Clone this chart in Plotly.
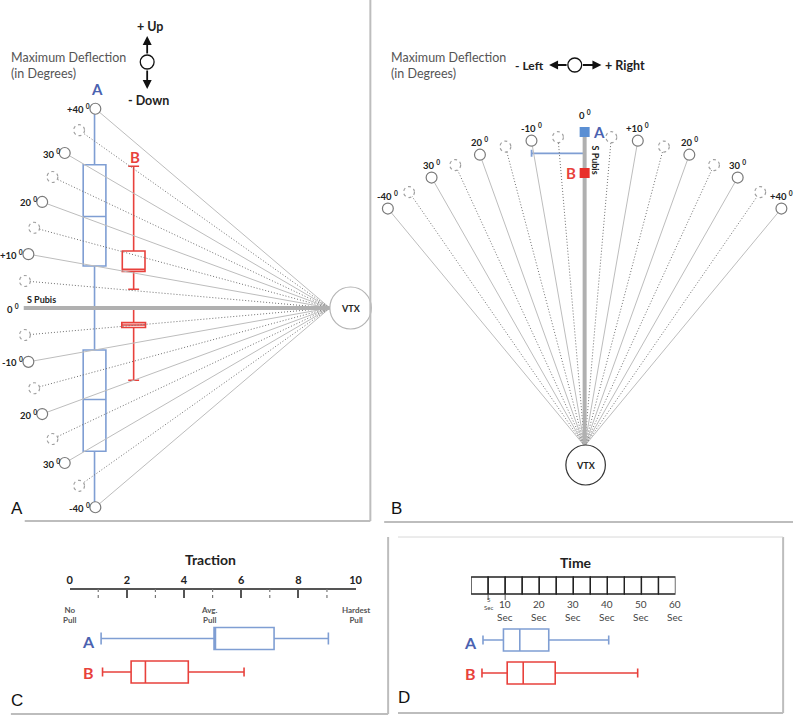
import math
import plotly.graph_objects as go

# ---------------- data ----------------
FAN_ANGLES = [-40, -35, -30, -25, -20, -15, -10, -5, 0, 5, 10, 15, 20, 25, 30, 35, 40]
LABEL_ANGLES = [-40, -30, -20, -10, 0, 10, 20, 30, 40]
DEGREE_LABELS = ["-40", "30", "20", "-10", "0", "+10", "20", "30", "+40"]

# box statistics: [lower whisker, Q1, median, Q3, upper whisker]  (degrees)
UPDOWN_A_UP = [0, 10, 21, 31, 40]
UPDOWN_A_DOWN = [-40, -31, -21, -10, 0]
UPDOWN_B_UP = [5.4, 10.4, 11, 16, 35.5]
UPDOWN_B_DOWN = [-20, -5.6, -4.9, -4.2, 0]
LEFTRIGHT_A = [-10.4, 0, 0, 0, 0]
LEFTRIGHT_MEDIANS = [0, 0]          # A, B

TRACTION_A = [1.1, 5.05, 5.1, 7.15, 9.05]
TRACTION_B = [1.15, 2.15, 2.65, 4.15, 6.1]
TRACTION_TICKS = [0, 2, 4, 6, 8, 10]
TRACTION_MINOR = [1, 3, 5, 7, 9]
TRACTION_ANCHOR_VALUES = [0, 4.9, 10]
TRACTION_ANCHOR_TEXT = ["No<br>Pull", "Avg.<br>Pull", "Hardest<br>Pull"]

TIME_A = [3.5, 9.5, 14.3, 22.8, 40.4]
TIME_B = [3.2, 10.6, 15.3, 24.7, 48.9]
TIME_CELL_EDGES = [0, 5, 10, 15, 20, 25, 30, 35, 40, 45, 50, 55, 60]
TIME_TICKS = [5, 10, 20, 30, 40, 50, 60]

# ---------------- layout / style ----------------
W, H = 800, 720
FONT = "Lato"
BLUE = "#7f9ed3"
BLUE_TXT = "#4a62b0"
RED = "#e8413c"
GRAY_SOLID = "#bdbdbd"
GRAY_DOT = "#707070"
FAN_R = 310
VA = (331, 308)     # vertex of panel A (px)
VB = (589, 446)     # vertex of panel B (px)
TOP_BOTTOM = 530    # px where top panels end


def tproj(deg, dist):
    return dist * math.tan(math.radians(deg))


def P(x, y, text, size, color="#222", xanchor="center", yanchor="middle",
      family=FONT, angle=0):
    return dict(xref="paper", yref="paper", x=x / W, y=1 - y / H, text=text,
                showarrow=False, xanchor=xanchor, yanchor=yanchor, align=xanchor,
                textangle=angle, font=dict(family=family, size=size, color=color))


fig = go.Figure()
shapes = []
anns = []


def fanA(deg):
    r = math.radians(deg)
    return -FAN_R * math.cos(r), FAN_R * math.sin(r)


def fanB(deg):
    r = math.radians(deg)
    return FAN_R * math.sin(r), FAN_R * math.cos(r)


for fan, xa, ya in ((fanA, "x", "y"), (fanB, "x2", "y2")):
    sx, sy, dx, dy = [], [], [], []
    for d in FAN_ANGLES:
        if d == 0:
            continue
        ex, ey = fan(d)
        if d % 10 == 0:
            sx += [0, ex, None]; sy += [0, ey, None]
        else:
            dx += [0, ex, None]; dy += [0, ey, None]
    fig.add_trace(go.Scatter(x=sx, y=sy, mode="lines", xaxis=xa, yaxis=ya,
                             line=dict(color=GRAY_SOLID, width=1), hoverinfo="skip",
                             showlegend=False))
    fig.add_trace(go.Scatter(x=dx, y=dy, mode="lines", xaxis=xa, yaxis=ya,
                             line=dict(color=GRAY_DOT, width=1, dash="1px,2px"),
                             hoverinfo="skip", showlegend=False))
    # S Pubis (0 degree) line
    ex, ey = fan(0)
    fig.add_trace(go.Scatter(x=[0, ex], y=[0, ey], mode="lines", xaxis=xa, yaxis=ya,
                             line=dict(color="#b0b0b0", width=4), hoverinfo="skip",
                             showlegend=False))
    # circles at the ends
    for d in FAN_ANGLES:
        if d == 0:
            continue
        ex, ey = fan(d)
        shapes.append(dict(type="circle", xref=xa, yref=ya,
                           x0=ex - 5.5, x1=ex + 5.5, y0=ey - 5.5, y1=ey + 5.5,
                           fillcolor="white",
                           line=dict(color="#7a7a7a" if d % 10 == 0 else "#a0a0a0",
                                     width=1.2, dash="solid" if d % 10 == 0 else "dot")))

# degree labels
for d, lab in zip(LABEL_ANGLES, DEGREE_LABELS):
    ax_, ay_ = fanA(d)
    anns.append(dict(xref="x", yref="y", x=ax_, y=ay_, text=f"<b>{lab} <sup>0</sup></b>",
                     showarrow=False, xanchor="right", yanchor="middle", xshift=-3,
                     font=dict(family=FONT, size=9.5, color="#222")))
    bx_, by_ = fanB(d)
    anns.append(dict(xref="x2", yref="y2", x=bx_, y=by_, text=f"<b>{lab} <sup>0</sup></b>",
                     showarrow=False, xanchor="center", yanchor="bottom",
                     yshift=13 if d == 0 else 5,
                     font=dict(family=FONT, size=9.5, color="#222")))


def vbox(stats, pos, color, width, ww, xa, ya, lw=1.6):
    s = [tproj(v, -pos) for v in stats]
    return go.Box(x=[pos], lowerfence=[s[0]], q1=[s[1]], median=[s[2]], q3=[s[3]],
                  upperfence=[s[4]], orientation="v", width=width, whiskerwidth=ww,
                  line=dict(color=color, width=lw), fillcolor="white", boxpoints=False,
                  hoverinfo="skip", xaxis=xa, yaxis=ya, showlegend=False)


POS_A = -(VA[0] - 92.7)
POS_B = -(VA[0] - 132.3)
fig.add_trace(vbox(UPDOWN_A_UP, POS_A, BLUE, 23, 0.32, "x", "y"))
fig.add_trace(vbox(UPDOWN_A_DOWN, POS_A, BLUE, 23, 0.32, "x", "y"))
fig.add_trace(vbox(UPDOWN_B_UP, POS_B, RED, 23, 0.48, "x", "y"))
fig.add_trace(vbox(UPDOWN_B_DOWN, POS_B, RED, 24, 0.46, "x", "y"))

# VTX circle A
shapes.append(dict(type="circle", xref="x", yref="y", x0=0, x1=42, y0=-21, y1=21,
                   line=dict(color="#b5b5b5", width=1.2), fillcolor="white"))
anns.append(dict(xref="x", yref="y", x=21, y=0, text="<b>VTX</b>", showarrow=False,
                 font=dict(family=FONT, size=9, color="#222")))
anns.append(P(22, 299, "<b>S Pubis</b>", 9, xanchor="left"))
anns.append(P(95, 89, "<b>A</b>", 15, BLUE_TXT))
anns.append(P(134, 157, "<b>B</b>", 15, RED))

# title + up/down symbol
anns.append(P(6, 65, "Maximum Deflection<br>(in Degrees)", 12.5, "#555", xanchor="left"))
anns.append(P(149, 27, "<b>+ Up</b>", 12.5))
anns.append(P(147, 101, "<b>- Down</b>", 12.5))
anns.append(dict(xref="paper", yref="paper", x=146 / W, y=1 - 36 / H, ax=0, ay=19,
                 text="", showarrow=True, arrowhead=2, arrowsize=1, arrowwidth=1.8,
                 arrowcolor="#111"))
anns.append(dict(xref="paper", yref="paper", x=146 / W, y=1 - 89 / H, ax=0, ay=-20,
                 text="", showarrow=True, arrowhead=2, arrowsize=1, arrowwidth=1.8,
                 arrowcolor="#111"))
shapes.append(dict(type="circle", xref="paper", yref="paper", x0=139 / W, x1=153 / W,
                   y0=1 - 69 / H, y1=1 - 55 / H, line=dict(color="#111", width=1.3),
                   fillcolor="white"))

# ================= Panel B (left / right) =================
LR_LEVEL = VB[1] - 153.3
s = [tproj(v, LR_LEVEL) for v in LEFTRIGHT_A]
fig.add_trace(go.Box(y=[LR_LEVEL], lowerfence=[s[0]], q1=[s[1]], median=[s[2]], q3=[s[3]],
                     upperfence=[s[4]], orientation="h", width=7, whiskerwidth=1,
                     line=dict(color=BLUE, width=1.8), fillcolor="white", boxpoints=False,
                     hoverinfo="skip", xaxis="x2", yaxis="y2", showlegend=False))
SQ_LEVELS = [VB[1] - 132, VB[1] - 173]
fig.add_trace(go.Scatter(x=[tproj(LEFTRIGHT_MEDIANS[0], SQ_LEVELS[0]),
                            tproj(LEFTRIGHT_MEDIANS[1], SQ_LEVELS[1])],
                         y=SQ_LEVELS, mode="markers", xaxis="x2", yaxis="y2",
                         marker=dict(symbol="square", size=10, color=["#5b8fd3", "#e8302a"]),
                         hoverinfo="skip", showlegend=False))
anns.append(P(604, 132, "<b>A</b>", 15, BLUE_TXT))
anns.append(P(575, 173, "<b>B</b>", 15, RED))
anns.append(P(601, 160, "<b>S Pubis</b>", 9, angle=90))
shapes.append(dict(type="circle", xref="x2", yref="y2", x0=-19, x1=21, y0=-39, y1=1,
                   line=dict(color="#333", width=1.2), fillcolor="white"))
anns.append(dict(xref="x2", yref="y2", x=1, y=-19, text="<b>VTX</b>", showarrow=False,
                 font=dict(family=FONT, size=9, color="#222")))

anns.append(P(391, 65, "Maximum Deflection<br>(in Degrees)", 12.5, "#555", xanchor="left"))
anns.append(P(550, 65, "<b>- Left</b>", 12, xanchor="right"))
anns.append(P(608, 65, "<b>+ Right</b>", 12.5, xanchor="left"))
anns.append(dict(xref="paper", yref="paper", x=553 / W, y=1 - 65 / H, ax=19, ay=0,
                 text="", showarrow=True, arrowhead=2, arrowsize=1, arrowwidth=1.8,
                 arrowcolor="#111"))
anns.append(dict(xref="paper", yref="paper", x=606 / W, y=1 - 65 / H, ax=-20, ay=0,
                 text="", showarrow=True, arrowhead=2, arrowsize=1, arrowwidth=1.8,
                 arrowcolor="#111"))
shapes.append(dict(type="circle", xref="paper", yref="paper", x0=572 / W, x1=586 / W,
                   y0=1 - 72 / H, y1=1 - 58 / H, line=dict(color="#111", width=1.3),
                   fillcolor="white"))

# ================= Panel C (traction) =================
def hbox(stats, row, color, xa, ya, ww):
    return go.Box(y=[row], lowerfence=[stats[0]], q1=[stats[1]], median=[stats[2]],
                  q3=[stats[3]], upperfence=[stats[4]], orientation="h", width=22,
                  whiskerwidth=ww, line=dict(color=color, width=1.6), fillcolor="white",
                  boxpoints=False, hoverinfo="skip", xaxis=xa, yaxis=ya, showlegend=False)


fig.add_trace(hbox(TRACTION_A, 638.5, BLUE, "x3", "y3", 0.55))
fig.add_trace(hbox(TRACTION_B, 672, RED, "x3", "y3", 0.4))
for t in TRACTION_MINOR:
    shapes.append(dict(type="line", xref="x3", yref="y3", x0=t, x1=t, y0=589, y1=598,
                       line=dict(color="#777", width=1.2, dash="dot")))
for v, txt in zip(TRACTION_ANCHOR_VALUES, TRACTION_ANCHOR_TEXT):
    anns.append(dict(xref="x3", yref="y3", x=v, y=615, text=f"<b>{txt}</b>", showarrow=False,
                     font=dict(family=FONT, size=8, color="#555")))
anns.append(P(210, 559, "<b>Traction</b>", 14))
anns.append(P(87, 641, "<b>A</b>", 16, BLUE_TXT))
anns.append(P(87, 672, "<b>B</b>", 16, RED))

# ================= Panel D (time) =================
fig.add_trace(hbox(TIME_A, 640, BLUE, "x4", "y4", 0.4))
fig.add_trace(hbox(TIME_B, 673, RED, "x4", "y4", 0.4))
for a, b in zip(TIME_CELL_EDGES[:-1], TIME_CELL_EDGES[1:]):
    shapes.append(dict(type="rect", xref="x4", yref="y4", x0=a, x1=b, y0=577, y1=594,
                       line=dict(color="#222", width=1.3), fillcolor="rgba(0,0,0,0)"))
for t in TIME_TICKS:
    if t <= 10:
        shapes.append(dict(type="line", xref="x4", yref="y4", x0=t, x1=t, y0=594, y1=600,
                           line=dict(color="#555", width=1)))
    small = t < 10
    anns.append(dict(xref="x4", yref="y4", x=t, y=603 if small else 610,
                     text=f"{t}<br>Sec", showarrow=False,
                     font=dict(family=FONT, size=6 if small else 10, color="#444")))
anns.append(P(580, 562, "<b>Time</b>", 14))
anns.append(P(473, 642, "<b>A</b>", 16, BLUE_TXT))
anns.append(P(473, 673, "<b>B</b>", 16, RED))

# ================= panel letters and frames =================
for x, y, t in ((14, 508, "A"), (398, 508, "B"), (14, 700, "C"), (406, 697, "D")):
    anns.append(P(x, y, t, 17, "#111", family="Liberation Sans"))


def pline(x0, y0, x1, y1, color="#bdbdbd", width=2):
    shapes.append(dict(type="line", xref="paper", yref="paper", x0=x0 / W, x1=x1 / W,
                       y0=1 - y0 / H, y1=1 - y1 / H, line=dict(color=color, width=width)))


pline(372, 0, 372, 521)
pline(22, 521, 372, 521)
pline(386, 522, 800, 522)
pline(390, 537, 390, 714)
pline(8, 714, 390, 714)
pline(790, 537, 790, 713)
pline(400, 713, 790, 713)
pline(400, 537, 790, 537, "#d8d8d8", 1)

# ================= axes =================
hide = dict(visible=False, fixedrange=True, showgrid=False, zeroline=False)
top_dom = [1 - TOP_BOTTOM / H, 1]
bot_dom = [0, 1 - TOP_BOTTOM / H]
fig.update_layout(
    width=W, height=H, margin=dict(l=0, r=0, t=0, b=0),
    paper_bgcolor="white", plot_bgcolor="white", boxmode="overlay",
    xaxis=dict(domain=[0, 380 / W], range=[-VA[0], 380 - VA[0]], anchor="y", **hide),
    yaxis=dict(domain=top_dom, range=[VA[1] - TOP_BOTTOM, VA[1]], anchor="x", **hide),
    xaxis2=dict(domain=[380 / W, 1], range=[-(VB[0] - 380), W - VB[0]], anchor="y2", **hide),
    yaxis2=dict(domain=top_dom, range=[VB[1] - TOP_BOTTOM, VB[1]], anchor="x2", **hide),
    xaxis3=dict(domain=[67.5 / W, 357 / W], range=[0, 10], anchor="free",
                position=1 - 589 / H, side="top", showline=True, linecolor="#555",
                linewidth=1.5, ticks="inside", ticklen=8, tickwidth=1.5, tickcolor="#555",
                tickvals=TRACTION_TICKS, ticktext=[f"<b>{v}</b>" for v in TRACTION_TICKS],
                tickfont=dict(family=FONT, size=11, color="#222"), showgrid=False,
                zeroline=False, fixedrange=True),
    yaxis3=dict(domain=bot_dom, range=[H, TOP_BOTTOM], anchor="x3", **hide),
    xaxis4=dict(domain=[474 / W, 681 / W], range=[0, 60], anchor="y4", **hide),
    yaxis4=dict(domain=bot_dom, range=[H, TOP_BOTTOM], anchor="x4", **hide),
    shapes=shapes, annotations=anns,
)

fig.write_html("out.html", config={"displayModeBar": False},
               post_script="document.body.style.margin='0';")
